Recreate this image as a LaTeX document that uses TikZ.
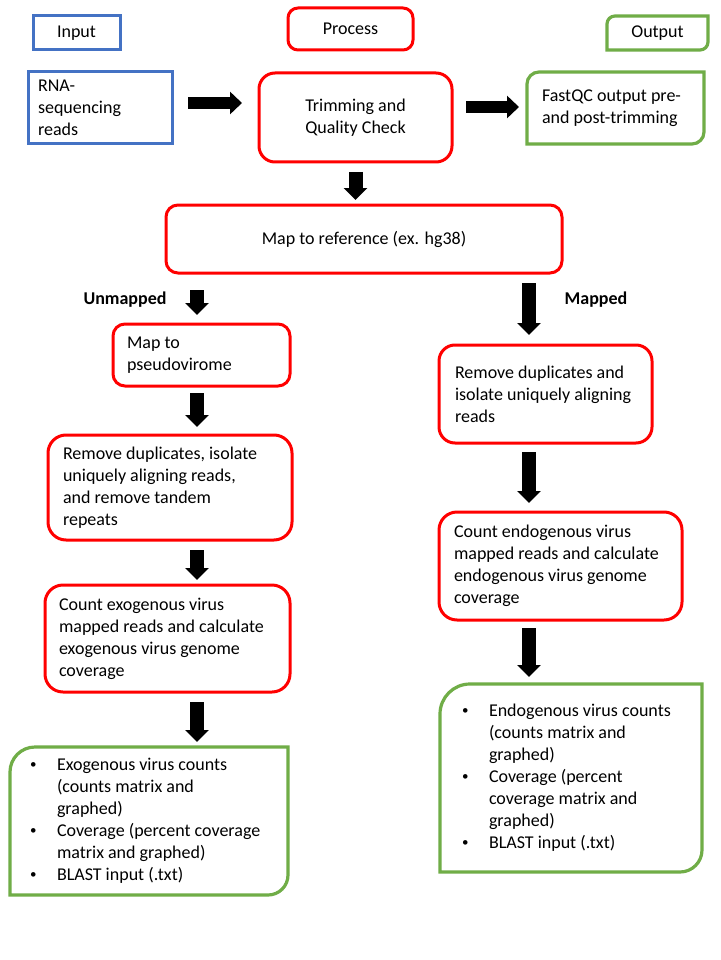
\documentclass[tikz,border=0pt]{standalone}
\usepackage{fontspec}
\setmainfont{Carlito}
\usetikzlibrary{arrows.meta,calc}
\definecolor{bblue}{HTML}{4472C4}
\definecolor{rred}{HTML}{FF0000}
\definecolor{ggreen}{HTML}{70AD47}
\tikzset{
 txt/.style={font=\fontsize{18}{22}\selectfont, outer sep=0pt, inner sep=0pt},
 bluebox/.style={txt, draw=bblue, line width=3pt},
 redbox/.style={txt, draw=rred, line width=3pt, rounded corners=#1},
 redbox/.default=12pt,
 gbox/.style={txt},
 gline/.style={draw=ggreen, line width=3.2pt},
 tleft/.style={txt, align=left, anchor=west},
 harrow/.style={line width=12pt, -{Triangle[length=12pt,width=22pt]}},
 varrow/.style={line width=14pt, -{Triangle[length=12pt,width=23pt]}},
 lbl/.style={font=\fontsize{18}{22}\selectfont\bfseries, inner sep=0pt}
}
\newcommand\grframe[3]{\draw[gline] ([yshift=-#2]#1.north west) arc[start angle=180,end angle=90,radius=#2] -- (#1.north east) -- ([yshift=#3]#1.south east) arc[start angle=0,end angle=-90,radius=#3] -- (#1.south west) -- cycle;}
\newcommand\bul{\makebox[27pt][l]{\raisebox{1.5pt}{\fontsize{13}{13}\selectfont •}}}
\begin{document}
\begin{tikzpicture}[x=1pt,y=1pt]
\fill[white] (0,0) rectangle (720,-960);
\useasboundingbox (0,0) rectangle (720,-960);

% header row
\node[bluebox, minimum width=87pt, minimum height=34pt] (input) at (76.5,-33) {Input};
\node[redbox=10pt, minimum width=125pt, minimum height=42pt] (process) at (350.5,-29) {Process};
\node[gbox, minimum width=101pt, minimum height=34pt] (output) at (657.5,-33) {Output};
\grframe{output}{8pt}{8pt}

% first row
\node[bluebox, minimum width=144pt, minimum height=72pt] (rna) at (100,-108) {};
\node[tleft] (rnat) at ([xshift=10pt]rna.west) {RNA-\\sequencing\\reads};
\node[redbox=16pt, minimum width=193pt, minimum height=89pt, align=center] (trim) at (355.5,-117.5) {Trimming and\\Quality Check};
\node[gbox, minimum width=177pt, minimum height=72pt] (fastqc) at (615.5,-108) {};
\grframe{fastqc}{12pt}{12pt}
\node[tleft] (fastqct) at ([xshift=15pt]fastqc.west) {FastQC output pre-\\and post-trimming};

\node[redbox=12pt, minimum width=396pt, minimum height=68pt] (mapref) at (364,-239) {Map to reference (ex. hg38)};

% left column
\node[redbox=12pt, minimum width=177pt, minimum height=62pt] (pseudo) at (201.5,-355) {};
\node[tleft] (pseudot) at ([xshift=14pt]pseudo.west) {Map to\\pseudovirome};
\node[redbox=18pt, minimum width=244pt, minimum height=105pt] (remdupL) at (170,-487.5) {};
\node[tleft] (remdupLt) at ([xshift=15pt]remdupL.west) {Remove duplicates, isolate\\uniquely aligning reads,\\and remove tandem\\repeats};
\node[redbox=18pt, minimum width=245pt, minimum height=107pt] (countexo) at (167.5,-638.5) {};
\node[tleft] (countexot) at ([xshift=14pt]countexo.west) {Count exogenous virus\\mapped reads and calculate\\exogenous virus genome\\coverage};
\node[gbox, minimum width=278pt, minimum height=148pt] (greenL) at (149,-821) {};
\grframe{greenL}{25pt}{20pt}
\node[tleft] (greenLt) at ([xshift=20pt]greenL.west) {\begin{tabular}{@{}l@{}l@{}}
\bul & Exogenous virus counts\\
 & (counts matrix and\\
 & graphed)\\
\bul & Coverage (percent coverage\\
 & matrix and graphed)\\
\bul & BLAST input (.txt)
\end{tabular}};

% right column
\node[redbox=16pt, minimum width=213pt, minimum height=98pt] (remdupR) at (545.5,-394) {};
\node[tleft] (remdupRt) at ([xshift=16pt]remdupR.west) {Remove duplicates and\\isolate uniquely aligning\\reads};
\node[redbox=18pt, minimum width=243pt, minimum height=108pt] (countendo) at (560.5,-566) {};
\node[tleft] (countendot) at ([xshift=15pt]countendo.west) {Count endogenous virus\\mapped reads and calculate\\endogenous virus genome\\coverage};
\node[gbox, minimum width=262pt, minimum height=188pt] (greenR) at (571,-778) {};
\grframe{greenR}{30pt}{22pt}
\node[tleft] (greenRt) at ([xshift=22pt]greenR.west) {\begin{tabular}{@{}l@{}l@{}}
\bul & Endogenous virus counts\\
 & (counts matrix and\\
 & graphed)\\
\bul & Coverage (percent\\
 & coverage matrix and\\
 & graphed)\\
\bul & BLAST input (.txt)
\end{tabular}};

% labels
\node[lbl] (unm) at (125,-300) {Unmapped};
\node[lbl] (mpd) at (596,-300) {Mapped};

% arrows
\draw[harrow] ([xshift=16pt,yshift=5pt]rna.east) -- ++(54,0);
\draw[harrow] ([xshift=14pt,yshift=10.5pt]trim.east) -- ++(53,0);
\draw[varrow] ([yshift=-10pt]trim.south) -- ++(0,-28);
\draw[varrow] ([xshift=-4.5pt,yshift=34pt]pseudo.north) -- ++(0,-25);
\draw[varrow] ([xshift=-4.5pt,yshift=-7pt]pseudo.south) -- ++(0,-34);
\draw[varrow] ([xshift=27pt,yshift=-10pt]remdupL.south) -- ++(0,-30);
\draw[varrow] ([xshift=29.5pt,yshift=-10pt]countexo.south) -- ++(0,-40);
\draw[varrow] ([xshift=-16.5pt,yshift=62pt]remdupR.north) -- ++(0,-52);
\draw[varrow] ([xshift=-16.5pt,yshift=-9pt]remdupR.south) -- ++(0,-51);
\draw[varrow] ([xshift=-31.5pt,yshift=-8pt]countendo.south) -- ++(0,-49);
\end{tikzpicture}
\end{document}
